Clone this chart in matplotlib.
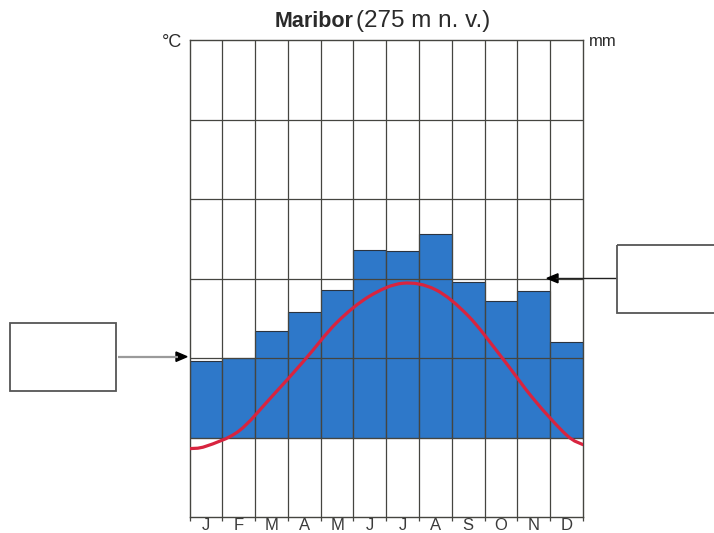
import matplotlib
matplotlib.use("Agg")
import matplotlib.pyplot as plt
from matplotlib import font_manager
from matplotlib.path import Path
from matplotlib.patches import PathPatch, Rectangle, Polygon
import numpy as np

# --- data ---
months = ["J", "F", "M", "A", "M", "J", "J", "A", "S", "O", "N", "D"]
precip_mm = [48, 50, 67, 79, 93, 118, 117, 128, 98, 86, 92, 60]
temp_c = [-1.1, 0.8, 5.1, 9.7, 14.5, 17.8, 19.4, 18.6, 15.3, 10.2, 4.8, 0.3]
temp_start = -1.4   # curve value at the left edge
temp_end = -0.9     # curve value at the right edge

BLUE = "#2e78c9"
RED = "#d8243f"
GRID = "#454540"

names = {f.name for f in font_manager.fontManager.ttflist}
narrow = "Liberation Sans Narrow" if "Liberation Sans Narrow" in names else "Liberation Sans"
plt.rcParams["font.family"] = ["Liberation Sans", "DejaVu Sans"]


def smooth_path(xs, ys):
    # Catmull-Rom through the points, handed to matplotlib as cubic Bezier segments
    p = np.column_stack([xs, ys]).astype(float)
    p_ext = np.vstack([p[0], p, p[-1]])
    verts = [p[0]]
    codes = [Path.MOVETO]
    for i in range(1, len(p_ext) - 2):
        c1 = p_ext[i] + (p_ext[i + 1] - p_ext[i - 1]) / 6
        c2 = p_ext[i + 1] - (p_ext[i + 2] - p_ext[i]) / 6
        verts += [c1, c2, p_ext[i + 1]]
        codes += [Path.CURVE4] * 3
    return Path(verts, codes)


fig = plt.figure(figsize=(7.14, 5.33), dpi=100)
ax = fig.add_axes([189.5 / 714, 16 / 533, 393.5 / 714, 477 / 533])

x = np.arange(12) + 0.5
ax.bar(x, precip_mm, width=1.0, color=BLUE, edgecolor="#2a3340", linewidth=0.8, zorder=2)
ax.set_xlim(0, 12)
ax.set_ylim(-50, 250)

for yv in np.arange(0, 250, 50):
    ax.axhline(yv, color=GRID, lw=0.9, zorder=3)
for xv in range(1, 12):
    ax.axvline(xv, color=GRID, lw=0.9, zorder=3)
for s in ax.spines.values():
    s.set_color(GRID)
    s.set_linewidth(1.0)
    s.set_zorder(4)

ax.set_yticks([])
ax.set_xticks(range(13))
ax.set_xticklabels([])
ax.tick_params(axis="x", which="major", length=3, width=0.9, color=GRID, direction="out")
ax.set_xticks(x, minor=True)
ax.set_xticklabels(months, minor=True, fontsize=12, color="#3a3a3a")
ax.tick_params(axis="x", which="minor", length=0, pad=0.5)

ax2 = ax.twinx()
ax2.set_ylim(-10, 50)
ax2.set_yticks([])
for s in ax2.spines.values():
    s.set_visible(False)
tx = np.concatenate([[0], x, [12]])
ty = np.concatenate([[temp_start], temp_c, [temp_end]])
ax2.add_patch(PathPatch(smooth_path(tx, ty), fill=False, edgecolor=RED, lw=2.3,
                        capstyle="round", zorder=5))

# titles and unit labels
fig.text(353 / 714, 1 - 27 / 533, "Maribor", ha="right", va="baseline",
         fontsize=15.5, fontweight="bold", family=[narrow, "DejaVu Sans"], color="#2a2a2a")
fig.text(356 / 714, 1 - 27 / 533, "(275 m n. v.)", ha="left", va="baseline",
         fontsize=17.5, color="#2a2a2a")
fig.text(162 / 714, 1 - 47 / 533, "°C", ha="left", va="baseline", fontsize=13, color="#2a2a2a")
fig.text(589 / 714, 1 - 46 / 533, "mm", ha="left", va="baseline", fontsize=12, color="#2a2a2a")

# empty label boxes with arrows (pixel overlay)
ov = fig.add_axes([0, 0, 1, 1], zorder=10)
ov.set_xlim(0, 714)
ov.set_ylim(533, 0)
ov.axis("off")
ov.add_patch(Rectangle((9.5, 322.5), 106, 68, fill=False, edgecolor="#555555", lw=1.3))
ov.add_patch(Rectangle((617, 245), 110, 67.5, fill=False, edgecolor="#555555", lw=1.3,
                       clip_on=True))
ov.plot([118, 178], [356.7, 356.7], color="#9a9a9a", lw=1.6, solid_capstyle="butt")
ov.add_patch(Polygon([[187, 356.7], [176, 352], [176, 361.4]], closed=True, color="black"))
ov.plot([615, 556], [278.3, 278.3], color="#222222", lw=1.0)
ov.add_patch(Polygon([[547, 278.3], [558, 273.8], [558, 282.8]], closed=True, color="black"))

fig.savefig("out.png", dpi=100)
